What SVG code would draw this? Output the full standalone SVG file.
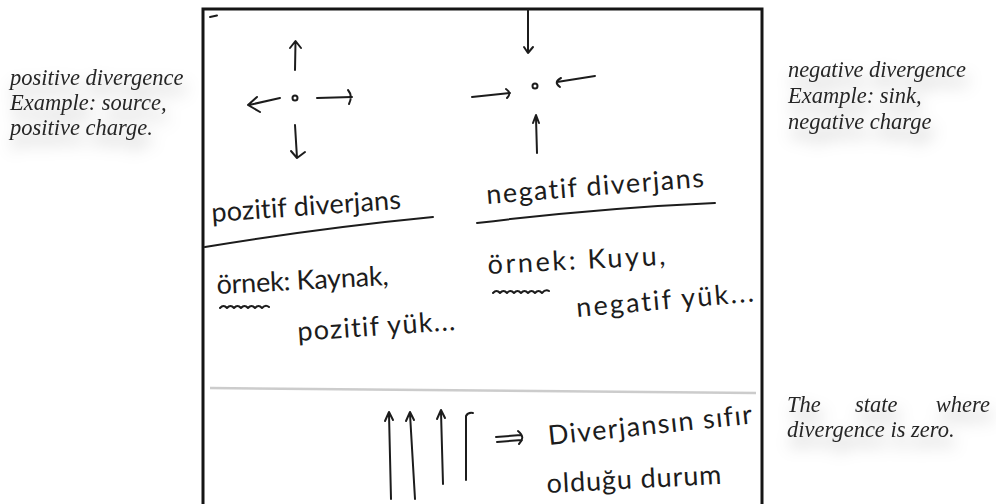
<svg xmlns="http://www.w3.org/2000/svg" width="996" height="504" viewBox="0 0 996 504">
<defs>
<filter id="sh" x="-20%" y="-40%" width="140%" height="200%">
<feDropShadow dx="3" dy="10" stdDeviation="8" flood-color="#000" flood-opacity="0.3"/>
</filter>
<style>
.note{font-family:"Liberation Serif","DejaVu Serif",serif;font-style:italic;font-size:22.5px;fill:#262626}
.hand{font-family:"Lato","Open Sans",sans-serif;font-size:27px;fill:#1c1c1c;font-variant-ligatures:none}
.ink{fill:none;stroke:#1c1c1c;stroke-width:2;stroke-linecap:round;stroke-linejoin:round}
</style>
</defs>
<rect width="996" height="504" fill="#fff"/>
<g id="frame">
<rect x="203" y="9" width="559" height="520" fill="#fff" stroke="#151515" stroke-width="3"/>
<path class="ink" d="M210 17 L217 15.5"/>
<path d="M210 388 L756 393" stroke="#999" stroke-width="2.5" opacity="0.5" fill="none"/>
</g>
<g id="left-note" filter="url(#sh)">
<text class="note" x="10" y="85">positive divergence</text>
<text class="note" x="10" y="110">Example: source,</text>
<text class="note" x="10" y="135">positive charge.</text>
</g>
<g id="right-note" filter="url(#sh)">
<text class="note" x="788" y="77" textLength="178">negative divergence</text>
<text class="note" x="788" y="103">Example: sink,</text>
<text class="note" x="788" y="129">negative charge</text>
</g>
<g id="zero-note" filter="url(#sh)">
<text class="note" x="787" y="412">The</text>
<text class="note" x="855" y="412">state</text>
<text class="note" x="990" y="412" text-anchor="end">where</text>
<text class="note" x="787" y="437">divergence is zero.</text>
</g>
<g id="positive-source">
<circle cx="295" cy="98" r="2.5" class="ink" stroke-width="1.8"/>
</g>
<g id="negative-sink">
<circle cx="535" cy="86" r="2.5" class="ink" stroke-width="1.8"/>
</g>
<g id="connectors">
<path class="ink" d="M295 70 L295.5 42 M290 48 L295.5 41 L301 48"/>
<path class="ink" d="M295 125 L297 158 M291 151 L297 158 L305 152"/>
<path class="ink" d="M280 98 L249 105 M257 97 L248 105 L260 112"/>
<path class="ink" d="M317 98 L352 97 M348 90 Q353 96 349 104"/>
<path class="ink" d="M528 10 L528 52 M524 47 L528 53 L533 47"/>
<path class="ink" d="M472 97 L510 93 M506 89 Q512 93 507 98"/>
<path class="ink" d="M557 82 L595 76 M561 78 Q553 82 560 87"/>
<path class="ink" d="M537 153 L536 118 M533 123 L536 115 L539 123"/>
<path class="ink" d="M391 499 L389 414 M385 421 L389 412 L393 420"/>
<path class="ink" d="M415 499 L410 414 M406 421 L410 412 L414 420"/>
<path class="ink" d="M443 484 L441 412 M437 419 L441 410 L445 418"/>
<path class="ink" d="M466 480 L466 416 Q468 412 473 413"/>
<path class="ink" d="M496 437 L521 435 M497 442 L522 440 M518 431 Q526 437 519 444"/>
</g>
<g id="pozitif">
<text class="hand" x="212" y="222" transform="rotate(-4 212 222)" textLength="190">pozitif diverjans</text>
<path class="ink" d="M205 247 Q320 228 433 217"/>
<text class="hand" x="217" y="294" font-size="25" transform="rotate(-3 217 294)" textLength="172">örnek: Kaynak,</text>
<path class="ink" d="M220 308 q3.5 -4 7 0 q3.5 -4 7 0 q3.5 -4 7 0 q3.5 -4 7 0 q3.5 -4 7 0 q3.5 -4 7 0 q3.5 -4 7 -1"/>
<text class="hand" x="298" y="341" font-size="25" transform="rotate(-4 298 341)" textLength="158">pozitif yük...</text>
</g>
<g id="negatif">
<text class="hand" x="487" y="204" transform="rotate(-4.5 487 204)" textLength="218">negatif diverjans</text>
<path class="ink" d="M477 223 Q600 208 715 203"/>
<text class="hand" x="488" y="274" font-size="25" transform="rotate(-3 488 274)" textLength="178">örnek: Kuyu,</text>
<path class="ink" d="M493 293 q3.5 -4 7 0 q3.5 -4 7 0 q3.5 -4 7 0 q3.5 -4 7 0 q3.5 -4 7 0 q3.5 -4 7 0 q3.5 -4 7 0 q3.5 -4 7 -2"/>
<text class="hand" x="577" y="317" font-size="25" transform="rotate(-5 577 317)" textLength="178">negatif yük...</text>
</g>
<g id="sifir">
<text class="hand" x="549" y="445" transform="rotate(-6 549 445)" textLength="205">Diverjansın sıfır</text>
<text class="hand" x="547" y="493" transform="rotate(-3 547 493)" textLength="175">olduğu durum</text>
</g>
</svg>
